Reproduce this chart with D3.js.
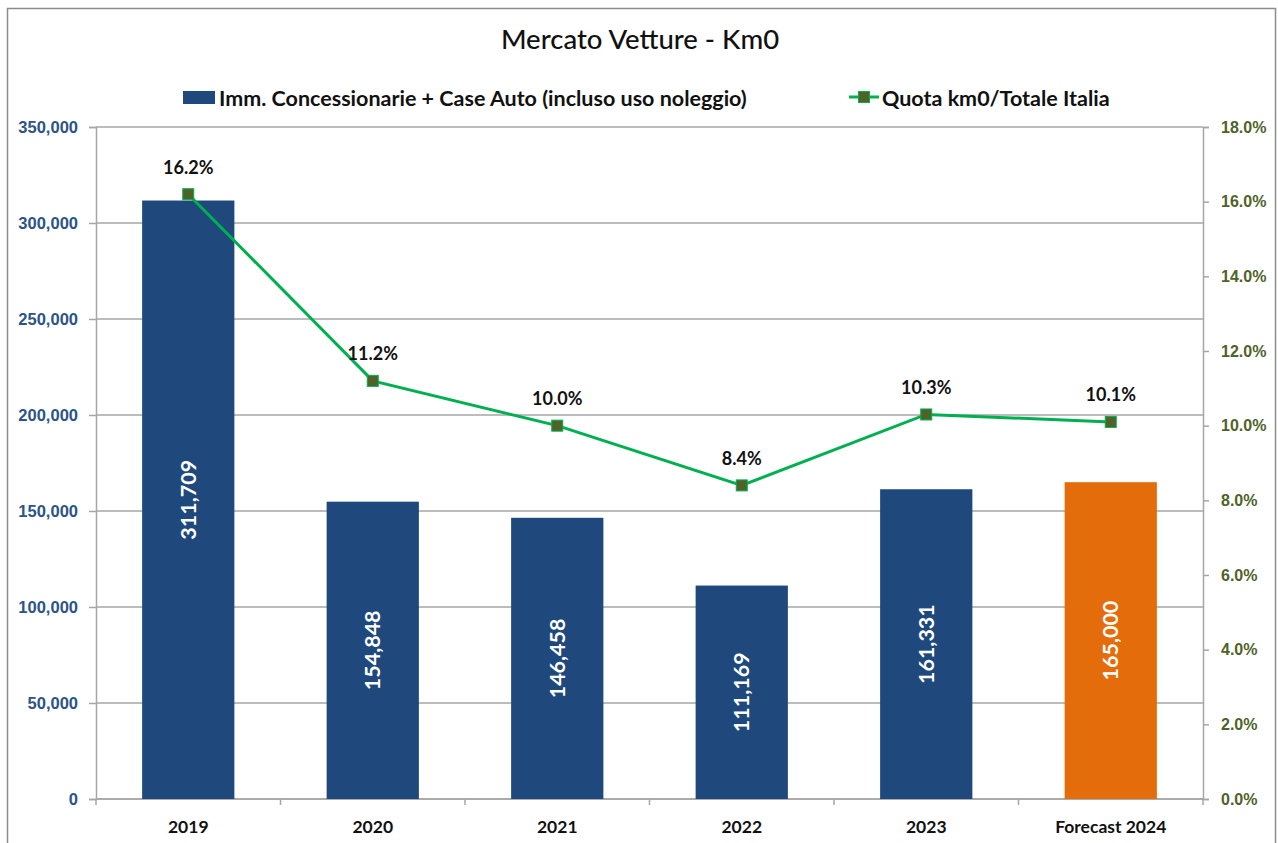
<!DOCTYPE html>
<html>
<head>
<meta charset="utf-8">
<script src="https://cdn.jsdelivr.net/npm/d3@7"></script>
<style>
  body { margin: 0; background: #fff; }
  svg { font-family: Lato, "Open Sans", sans-serif; }
</style>
</head>
<body>
<svg id="chart"></svg>
<script>
// data
const years = ["2019", "2020", "2021", "2022", "2023", "Forecast 2024"]
const immatricolazioni = [311709, 154848, 146458, 111169, 161331, 165000]
const quotaKm0 = [16.2, 11.2, 10.0, 8.4, 10.3, 10.1]
const leftTicks = [0, 50000, 100000, 150000, 200000, 250000, 300000, 350000]
const rightTicks = [0, 2, 4, 6, 8, 10, 12, 14, 16, 18]

const width = 1278, height = 843
const margin = {top: 127, right: 75, bottom: 44, left: 96}
const innerW = width - margin.left - margin.right
const innerH = height - margin.top - margin.bottom

const barColor = "#1F497D"
const forecastColor = "#E46C0A"
const lineColor = "#00B050"
const markerColor = "#4F6228"
const gridColor = "#A6A6A6"

const svg = d3.select("#chart")
  .attr("width", width)
  .attr("height", height)

// outer frame
svg.append("rect")
  .attr("x", 7.5).attr("y", 8.5)
  .attr("width", 1268).attr("height", 850)
  .attr("fill", "none")
  .attr("stroke", "#8C8C8C")
  .attr("stroke-width", 1.5)

// title
svg.append("text")
  .attr("x", 640).attr("y", 49)
  .attr("text-anchor", "middle")
  .style("font-size", "27.5px")
  .style("font-weight", 500)
  .attr("fill", "#111")
  .text("Mercato Vetture - Km0")

const g = svg.append("g")
  .attr("transform", `translate(${margin.left}, ${margin.top})`)

// scales
const xScale = d3.scaleBand()
  .domain(years)
  .range([0, innerW])
  .paddingInner(0.5)
  .paddingOuter(0.25)

const yLeft = d3.scaleLinear()
  .domain([0, 350000])
  .range([innerH, 0])

const yRight = d3.scaleLinear()
  .domain([0, 18])
  .range([innerH, 0])

// gridlines
g.append("g")
  .selectAll("line")
  .data(leftTicks)
  .enter()
  .append("line")
  .attr("x1", 0).attr("x2", innerW)
  .attr("y1", d => yLeft(d)).attr("y2", d => yLeft(d))
  .attr("stroke", gridColor)
  .attr("stroke-width", 1.5)

// left axis
const leftAxis = g.append("g")
  .call(d3.axisLeft(yLeft).tickValues(leftTicks).tickFormat(d3.format(",")).tickSizeOuter(0).tickSize(7).tickPadding(11))
leftAxis.select(".domain").attr("stroke", gridColor).attr("stroke-width", 1.5)
leftAxis.selectAll(".tick line").attr("stroke", gridColor).attr("stroke-width", 1.5)
leftAxis.selectAll("text")
  .attr("fill", "#2C5587")
  .style("font-size", "16.5px")
  .style("font-weight", "bold")

// right axis
const rightAxis = g.append("g")
  .attr("transform", `translate(${innerW}, 0)`)
  .call(d3.axisRight(yRight).tickValues(rightTicks).tickFormat(d => d.toFixed(1) + "%").tickSizeOuter(0).tickSize(6).tickPadding(12))
rightAxis.select(".domain").attr("stroke", gridColor).attr("stroke-width", 1.5)
rightAxis.selectAll(".tick line").attr("stroke", gridColor).attr("stroke-width", 1.5)
rightAxis.selectAll("text")
  .attr("fill", "#4F6228")
  .style("font-size", "16px")
  .style("font-weight", "bold")

// bottom axis: ticks between categories
const bottom = g.append("g").attr("transform", `translate(0, ${innerH})`)
bottom.append("line")
  .attr("x1", 0).attr("x2", innerW)
  .attr("stroke", gridColor).attr("stroke-width", 1.5)
bottom.selectAll(".sep")
  .data(d3.range(years.length + 1))
  .enter()
  .append("line")
  .attr("x1", i => i * innerW / years.length)
  .attr("x2", i => i * innerW / years.length)
  .attr("y1", 0).attr("y2", 6)
  .attr("stroke", gridColor).attr("stroke-width", 1.5)
bottom.selectAll(".lbl")
  .data(years)
  .enter()
  .append("text")
  .attr("x", d => xScale(d) + xScale.bandwidth() / 2)
  .attr("y", 34)
  .attr("text-anchor", "middle")
  .style("font-size", "17.5px")
  .style("font-weight", "bold")
  .attr("fill", "#111")
  .text(d => d)

// bars
g.selectAll(".bar")
  .data(immatricolazioni)
  .enter()
  .append("rect")
  .attr("class", "bar")
  .attr("x", (d, i) => xScale(years[i]))
  .attr("y", d => yLeft(d))
  .attr("width", xScale.bandwidth())
  .attr("height", d => innerH - yLeft(d))
  .attr("fill", (d, i) => i === years.length - 1 ? forecastColor : barColor)

// bar labels
g.selectAll(".barlabel")
  .data(immatricolazioni)
  .enter()
  .append("text")
  .attr("transform", (d, i) => {
    const cx = xScale(years[i]) + xScale.bandwidth() / 2
    const cy = (yLeft(d) + innerH) / 2
    return `translate(${cx}, ${cy}) rotate(-90)`
  })
  .attr("text-anchor", "middle")
  .attr("dy", "0.35em")
  .attr("fill", "#fff")
  .style("font-size", "21.5px")
  .style("font-weight", "bold")
  .text(d => d3.format(",")(d))

// line
const cxOf = i => xScale(years[i]) + xScale.bandwidth() / 2
g.append("path")
  .datum(quotaKm0)
  .attr("fill", "none")
  .attr("stroke", lineColor)
  .attr("stroke-width", 3)
  .attr("d", d3.line()
    .x((d, i) => cxOf(i))
    .y(d => yRight(d)))

// markers
g.selectAll(".marker")
  .data(quotaKm0)
  .enter()
  .append("rect")
  .attr("x", (d, i) => cxOf(i) - 5.5)
  .attr("y", d => yRight(d) - 5.5)
  .attr("width", 11).attr("height", 11)
  .attr("fill", markerColor)
  .attr("stroke", lineColor)
  .attr("stroke-width", 1)

// percentage labels
g.selectAll(".pct")
  .data(quotaKm0)
  .enter()
  .append("text")
  .attr("x", (d, i) => cxOf(i))
  .attr("y", d => yRight(d) - 27)
  .attr("text-anchor", "middle")
  .attr("dy", "0.35em")
  .style("font-size", "18px")
  .style("font-weight", "bold")
  .attr("fill", "#111")
  .text(d => d.toFixed(1) + "%")

// legend
const legend = svg.append("g")
legend.append("rect")
  .attr("x", 183).attr("y", 91)
  .attr("width", 32).attr("height", 13)
  .attr("fill", barColor)
legend.append("text")
  .attr("x", 219).attr("y", 98)
  .attr("dy", "0.35em")
  .style("font-size", "21.5px")
  .style("font-weight", "bold")
  .attr("fill", "#111")
  .text("Imm. Concessionarie + Case Auto (incluso uso noleggio)")
legend.append("line")
  .attr("x1", 849).attr("x2", 879)
  .attr("y1", 97).attr("y2", 97)
  .attr("stroke", lineColor).attr("stroke-width", 3)
legend.append("rect")
  .attr("x", 858.5).attr("y", 91.5)
  .attr("width", 11).attr("height", 11)
  .attr("fill", markerColor)
  .attr("stroke", lineColor)
legend.append("text")
  .attr("x", 882).attr("y", 98)
  .attr("dy", "0.35em")
  .style("font-size", "21.5px")
  .style("font-weight", "bold")
  .attr("fill", "#111")
  .text("Quota km0/Totale Italia")
</script>
</body>
</html>
